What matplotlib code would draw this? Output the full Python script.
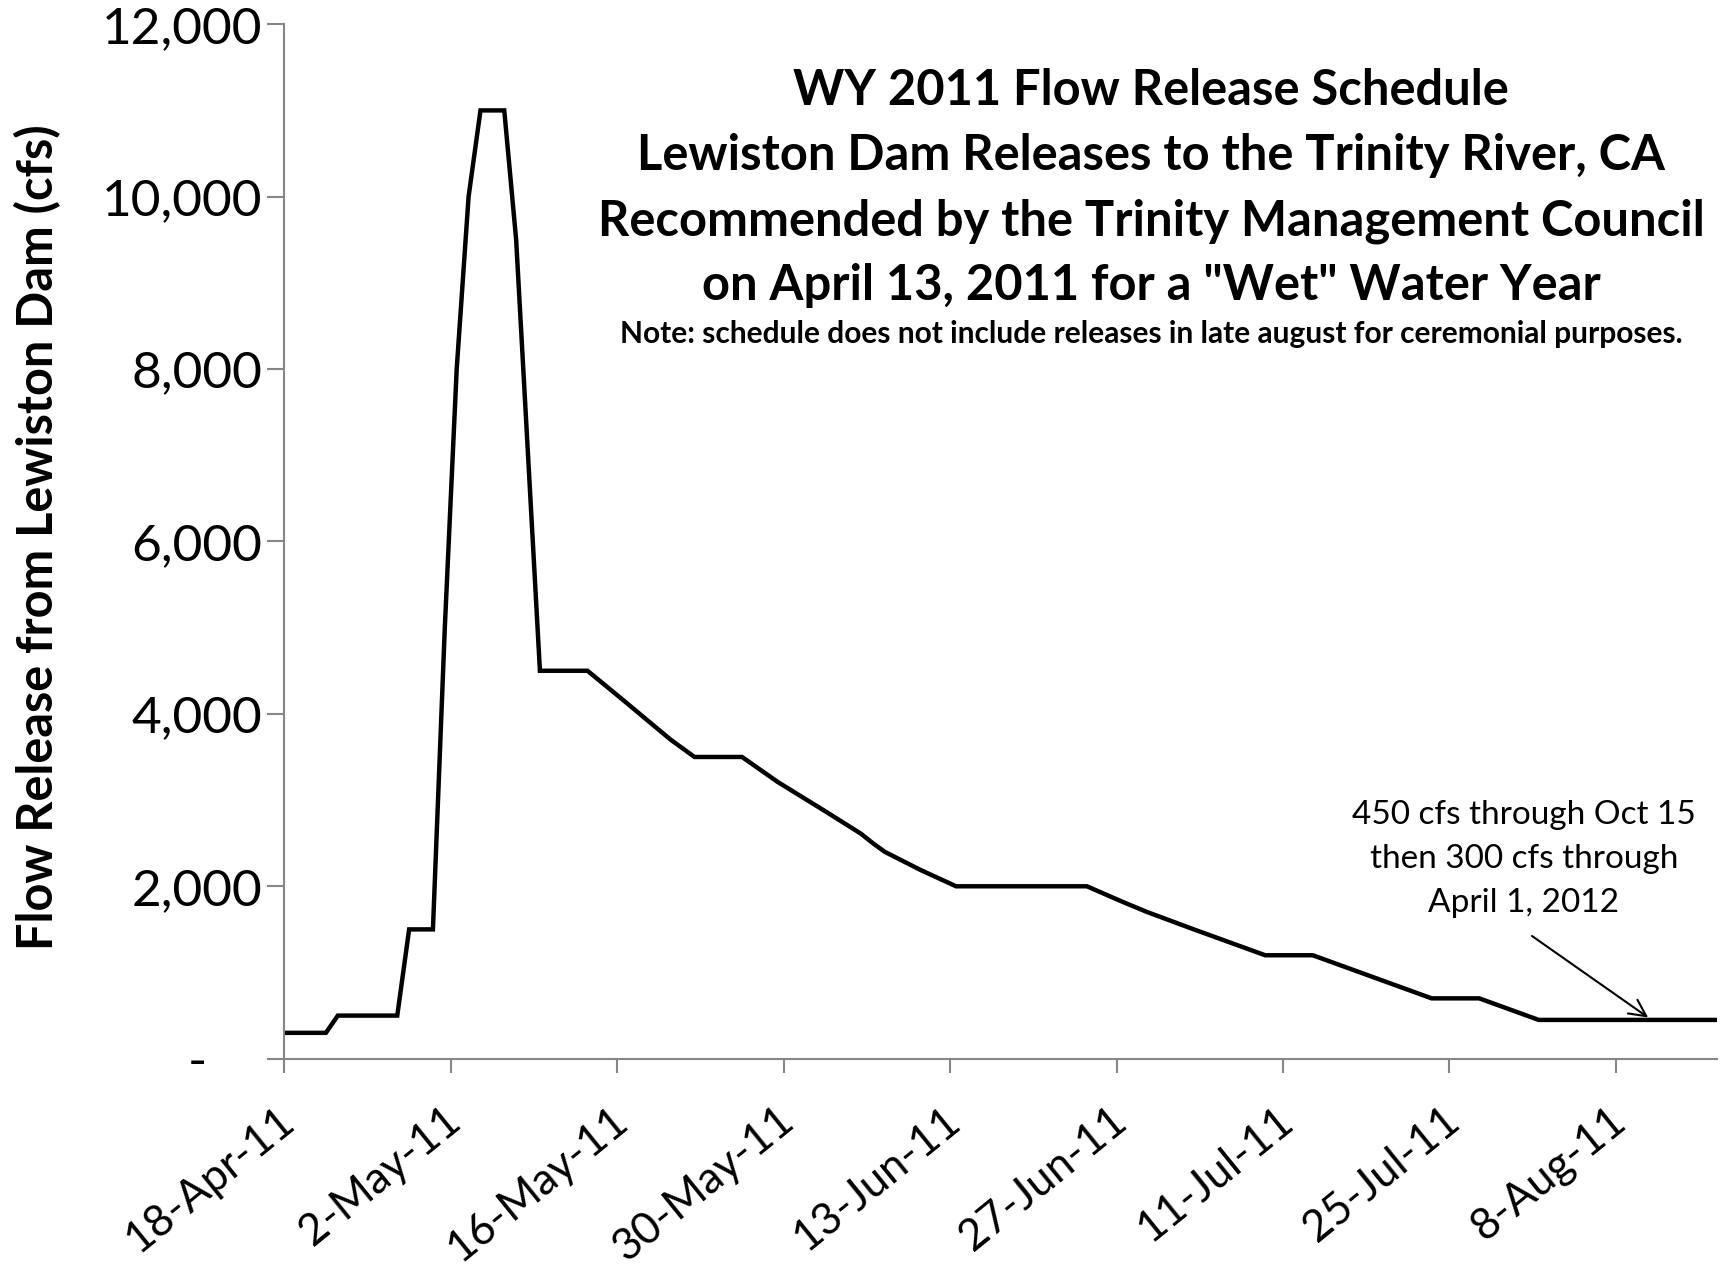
import matplotlib
matplotlib.use("Agg")
import matplotlib.pyplot as plt
import matplotlib.dates as mdates
import matplotlib.transforms as mtransforms
import numpy as np

# ---------------- data ----------------
DATES = ["2011-04-17", "2011-04-18", "2011-04-21", "2011-04-22", "2011-04-27",
         "2011-04-28", "2011-04-30", "2011-05-01", "2011-05-02", "2011-05-03",
         "2011-05-04", "2011-05-06", "2011-05-07", "2011-05-08", "2011-05-09",
         "2011-05-13", "2011-05-16", "2011-05-20", "2011-05-22", "2011-05-26",
         "2011-05-29", "2011-06-02", "2011-06-05", "2011-06-06", "2011-06-07",
         "2011-06-10", "2011-06-13", "2011-06-24", "2011-06-27", "2011-06-29",
         "2011-07-03", "2011-07-07", "2011-07-09", "2011-07-13", "2011-07-23",
         "2011-07-27", "2011-08-01", "2011-08-17"]
FLOW_CFS = [300, 300, 300, 500, 500,
            1500, 1500, 5000, 8000, 10000,
            11000, 11000, 9500, 7000, 4500,
            4500, 4160, 3700, 3500, 3500,
            3210, 2870, 2610, 2500, 2400,
            2190, 2000, 2000, 1820, 1705,
            1500, 1300, 1200, 1200, 700,
            700, 450, 450]

TICK_DATES = ["2011-04-18", "2011-05-02", "2011-05-16", "2011-05-30", "2011-06-13",
              "2011-06-27", "2011-07-11", "2011-07-25", "2011-08-08"]
TICK_LABELS = ["18-Apr-11", "2-May-11", "16-May-11", "30-May-11", "13-Jun-11",
               "27-Jun-11", "11-Jul-11", "25-Jul-11", "8-Aug-11"]
Y_TICKS = [0, 2000, 4000, 6000, 8000, 10000, 12000]
Y_TICK_LABELS = ["-", "2,000", "4,000", "6,000", "8,000", "10,000", "12,000"]

TITLE_LINES = ["WY 2011 Flow Release Schedule",
               "Lewiston Dam Releases to the Trinity River, CA",
               "Recommended by the Trinity Management Council",
               "on April 13, 2011 for a \"Wet\" Water Year"]
NOTE = "Note: schedule does not include releases in late august for ceremonial purposes."
ANNOT_LINES = ["450 cfs through Oct 15", "then 300 cfs through", "April 1, 2012"]
ARROW_DATE = "2011-08-11"
ARROW_VALUE = 450
X_START = "2011-04-18"
X_END = "2011-08-16 12:00"

# ---------------- figure ----------------
W, H = 1722, 1267
DPI = 100
plt.rcParams['font.family'] = ['Lato', 'DejaVu Sans']
fig = plt.figure(figsize=(W / DPI, H / DPI), dpi=DPI)
ax = fig.add_axes([284.3 / W, 1 - 1058.7 / H, (1717 - 284.3) / W, (1058.7 - 24.2) / H])

to_num = lambda s: mdates.date2num(np.datetime64(s))
half_day = 0.5
x = np.array([to_num(d) for d in DATES]) + half_day
ax.plot(x, FLOW_CFS, color='black', lw=3.2, solid_joinstyle='miter', clip_on=True)

ax.set_xlim(to_num(X_START), to_num(X_END))
ax.set_ylim(0, 12000)

GRAY = '#868686'
for s in ['top', 'right']:
    ax.spines[s].set_visible(False)
for s in ['left', 'bottom']:
    ax.spines[s].set_color(GRAY)
    ax.spines[s].set_linewidth(1.5)

ax.set_yticks(Y_TICKS)
ax.set_yticklabels(Y_TICK_LABELS)
ax.set_xticks([to_num(d) for d in TICK_DATES])
ax.set_xticklabels(TICK_LABELS, rotation=39, ha='right', va='center',
                   rotation_mode='anchor')

ax.tick_params(axis='y', direction='out', length=12, width=1.5, color=GRAY,
               labelsize=37, pad=4)
ax.tick_params(axis='x', direction='out', length=10, width=1.5, color=GRAY,
               labelsize=31.5, pad=31)

offx = mtransforms.ScaledTranslation(5 / DPI, 0, fig.dpi_scale_trans)
for lab in ax.get_xticklabels():
    lab.set_transform(lab.get_transform() + offx)
# accounting-style dash for zero
zero_lab = ax.get_yticklabels()[0]
zero_lab.set_transform(zero_lab.get_transform() +
                       mtransforms.ScaledTranslation(-55 / DPI, 0, fig.dpi_scale_trans))

# y label
fig.text(38 / W, 1 - 537 / H, "Flow Release from Lewiston Dam (cfs)", rotation=90,
         ha='center', va='center', fontsize=35, fontweight='bold')

# title block
cx = 1151 / W
baselines = [105.4, 170.2, 235.0, 299.8]
for line, b in zip(TITLE_LINES, baselines):
    fig.text(cx, 1 - b / H, line, ha='center', va='baseline', fontsize=35.2,
             fontweight='bold')
fig.text(cx, 1 - 342.6 / H, NOTE, ha='center', va='baseline', fontsize=21.5,
         fontweight='bold')

# annotation
for line, b in zip(ANNOT_LINES, [823.6, 867.5, 911.5]):
    fig.text(1524 / W, 1 - b / H, line, ha='center', va='baseline', fontsize=24)

ax.annotate('', xy=(to_num(ARROW_DATE), ARROW_VALUE), xycoords='data',
            xytext=(1532, H - 936), textcoords='figure pixels',
            arrowprops=dict(arrowstyle='->', lw=1.5, color='black',
                            mutation_scale=30, shrinkA=0, shrinkB=3))

fig.savefig('out.png', dpi=DPI)
